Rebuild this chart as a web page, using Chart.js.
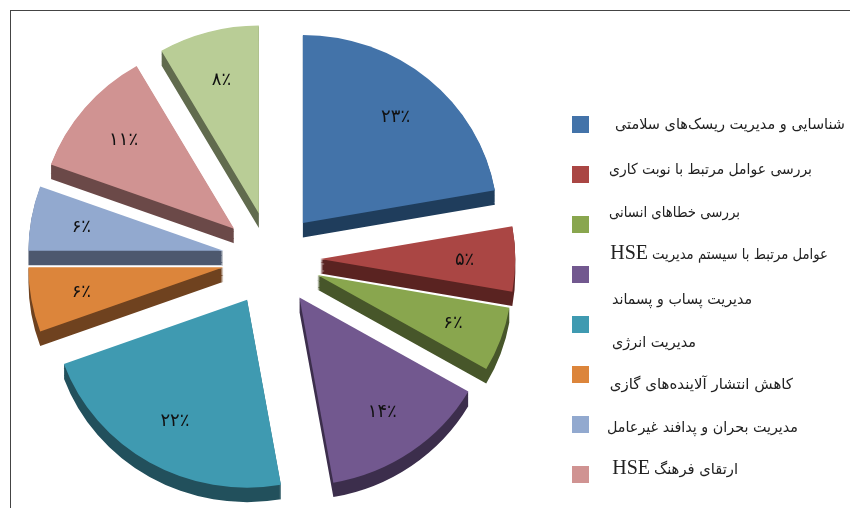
<!DOCTYPE html>
<html lang="fa">
<head>
<meta charset="utf-8">
<title>Pie</title>
<script src="https://cdn.jsdelivr.net/npm/chart.js@4/dist/chart.umd.min.js"></script>
<style>
  html, body { margin: 0; padding: 0; background: #fff; overflow: hidden; }
  #wrap { position: relative; width: 850px; height: 508px; }
  #frame { position: absolute; left: 10px; top: 10px; right: 0; bottom: 0; border-left: 1px solid #444; border-top: 1px solid #444; }
  canvas { position: absolute; left: 0; top: 0; }
</style>
</head>
<body>
<div id="wrap">
  <div id="frame"></div>
  <canvas id="pie" width="850" height="508"></canvas>
</div>
<script>
const categories = [
  'شناسایی و مدیریت ریسک‌های سلامتی',
  'بررسی عوامل مرتبط با نوبت کاری',
  'بررسی خطاهای انسانی',
  'عوامل مرتبط با سیستم مدیریت HSE',
  'مدیریت پساب و پسماند',
  'مدیریت انرژی',
  'کاهش انتشار آلاینده‌های گازی',
  'مدیریت بحران و پدافند غیرعامل',
  'ارتقای فرهنگ HSE'
];
// slice sizes: 80, 20, 20, 50, 80, 20, 20, 40, 30 degrees
const sliceValues = [8, 2, 2, 5, 8, 2, 2, 4, 3];
// percentages as printed on the slices
const printedLabels = ['۲۳٪', '۵٪', '۶٪', '۱۴٪', '۲۲٪', '۶٪', '۶٪', '۱۱٪', '۸٪'];
const topColors = ['#4373a9', '#aa4644', '#89a64e', '#72588f', '#3f9ab1', '#dc853b', '#92a9cf', '#d09392', '#b9cd96'];
const sideColors = ['#1f3d5c', '#5a2321', '#47562a', '#3c2e4c', '#22505c', '#6f421f', '#4d586e', '#6b4948', '#616b4e'];

const legendTextRight = [845, 812, 740, 828, 752, 696, 793, 798, 738];
const legendTextY = [125, 170, 213, 255, 300, 343, 385, 428, 470];
const legendTextWidth = [230, 203, 131, 176, 140, 84, 184, 191, 84];

const GAP = 48.8;
const DEPTH = 15;
const SQUASH = 0.964;
const CY = 259;

function drawLegendName(ctx, name, right, y, width) {
  const persian = name.replace(' HSE', '');
  ctx.font = '15px "DejaVu Sans"';
  ctx.fillText(persian, right, y, width);
  if (persian !== name) {
    const left = right - Math.min(ctx.measureText(persian).width, width) - 4;
    ctx.font = '20px "Liberation Serif"';
    ctx.fillText('HSE', left, y - 1);
  }
}

// exploded slices with a side wall, drawn from the arc elements
const explodedPie = {
  id: 'explodedPie',
  beforeDatasetDraw(chart, args) {
    const { ctx } = chart;
    const arcs = args.meta.data;
    ctx.save();
    ctx.translate(0, CY);
    ctx.scale(1, SQUASH);
    ctx.translate(0, -CY);
    arcs.forEach((arc, i) => {
      const mid = (arc.startAngle + arc.endAngle) / 2;
      ctx.save();
      ctx.translate(Math.cos(mid) * GAP, Math.sin(mid) * GAP);
      ctx.fillStyle = sideColors[i];
      ctx.beginPath();
      for (let k = DEPTH; k > 0; k--) {
        ctx.moveTo(arc.x, arc.y + k);
        ctx.arc(arc.x, arc.y + k, arc.outerRadius, arc.startAngle, arc.endAngle);
        ctx.closePath();
      }
      ctx.fill();
      arc.draw(ctx);
      ctx.restore();
    });
    ctx.restore();
    return false;
  },
  afterDatasetsDraw(chart) {
    const { ctx } = chart;
    const arcs = chart.getDatasetMeta(0).data;
    ctx.save();
    ctx.direction = 'rtl';
    ctx.fillStyle = '#111';
    ctx.textBaseline = 'middle';
    ctx.textAlign = 'center';
    ctx.font = '18px "DejaVu Sans"';
    arcs.forEach((arc, i) => {
      const mid = (arc.startAngle + arc.endAngle) / 2;
      const r = GAP + arc.outerRadius * 0.74;
      ctx.fillText(printedLabels[i], arc.x + Math.cos(mid) * r, CY + (arc.y - CY + Math.sin(mid) * r) * SQUASH + 1);
    });
    ctx.textAlign = 'right';
    categories.forEach((name, i) => {
      ctx.fillStyle = topColors[i];
      ctx.fillRect(572, 116 + i * 50, 17, 17);
      ctx.fillStyle = '#222';
      drawLegendName(ctx, name, legendTextRight[i], legendTextY[i], legendTextWidth[i]);
    });
    ctx.restore();
  }
};

new Chart(document.getElementById('pie'), {
  type: 'pie',
  data: {
    labels: categories,
    datasets: [{
      data: sliceValues,
      backgroundColor: topColors,
      borderWidth: 0
    }]
  },
  options: {
    responsive: false,
    animation: false,
    layout: { padding: { left: 76.5, right: 383.5, top: 64, bottom: 54 } },
    plugins: {
      legend: { display: false },
      tooltip: { enabled: false }
    }
  },
  plugins: [explodedPie]
});
</script>
</body>
</html>
